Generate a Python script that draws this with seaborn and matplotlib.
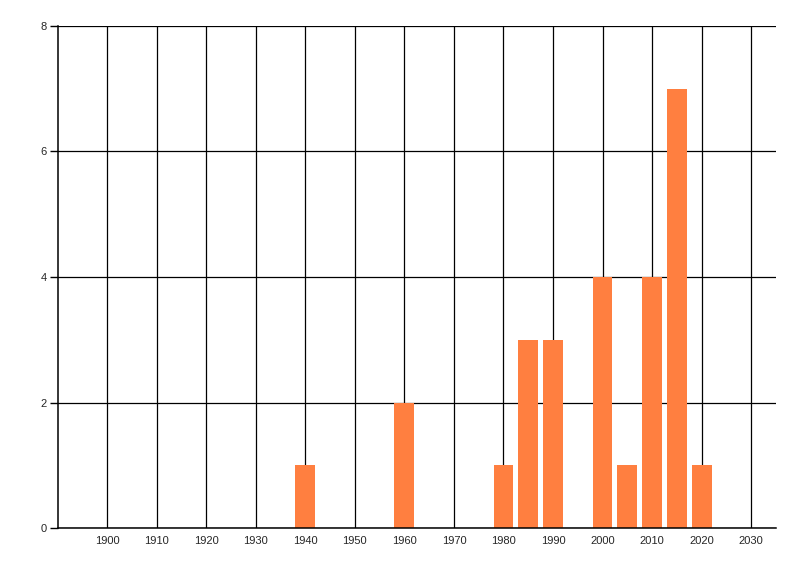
import matplotlib
matplotlib.use("Agg")
import matplotlib.pyplot as plt
import seaborn as sns
import pandas as pd
import numpy as np

years = [1940, 1960, 1980, 1985, 1990, 2000, 2005, 2010, 2015, 2020]
counts = [1, 2, 1, 3, 3, 4, 1, 4, 7, 1]
x_ticks = list(range(1900, 2031, 10))
y_ticks = [0, 2, 4, 6, 8]

df = pd.DataFrame({"year": years, "count": counts})

sns.set_style("white")
plt.rcParams["font.family"] = ["Liberation Sans", "DejaVu Sans"]

fig = plt.figure(figsize=(8, 5.76), dpi=100)
ax = fig.add_axes([0.0719, 0.0833, 0.8981, 0.8716])

sns.barplot(data=df, x="year", y="count", native_scale=True, color="#FF7F40",
            saturation=1, width=0.8, linewidth=0, ax=ax)

ax.set_xlim(1890, 2035)
ax.set_ylim(0, 8)
ax.set_xticks(x_ticks)
ax.set_yticks(y_ticks)
ax.set_xlabel("")
ax.set_ylabel("")

ax.set_axisbelow(True)
ax.grid(True, color="black", linewidth=0.9)

for side in ["top", "right"]:
    ax.spines[side].set_visible(False)
for side in ["left", "bottom"]:
    ax.spines[side].set_color("black")
    ax.spines[side].set_linewidth(1.1)

ax.tick_params(axis="y", length=6, width=1, color="black", labelsize=8, pad=2)
ax.tick_params(axis="x", length=0, labelsize=8, pad=6)
ax.tick_params(left=True, bottom=False)

fig.savefig("out.png", dpi=100)
